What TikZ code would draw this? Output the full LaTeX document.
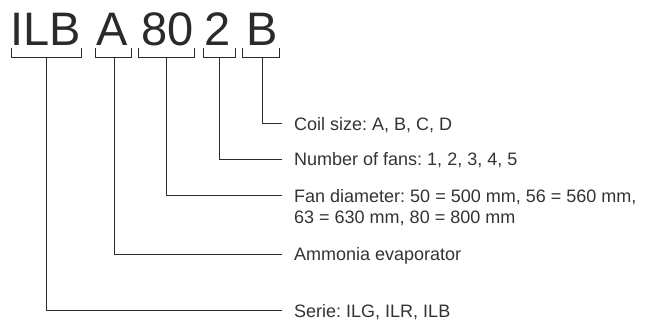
\documentclass[tikz,border=0pt]{standalone}
\usepackage{fontspec}
\setmainfont{Liberation Sans}
\frenchspacing
\definecolor{ink}{HTML}{2A2A2A}
\definecolor{lbl}{HTML}{333333}
\begin{document}
\begin{tikzpicture}[x=1pt,y=-1pt,
  big/.style={anchor=base,inner sep=0pt,text=ink,font=\fontsize{47}{47}\selectfont},
  lab/.style={anchor=base west,inner sep=0pt,text=lbl,font=\fontsize{18}{21.5}\selectfont,align=left},
  wire/.style={draw=ink,line width=0.8pt}]
\useasboundingbox (0,0) rectangle (648,323);
% code letters
\node[big] (tILB) at (46,46) {ILB};
\node[big] (tA) at (112.5,46) {A};
\node[big] (t80) at (167.5,46) {80};
\node[big] (t2) at (218,46) {2};
\node[big] (tB) at (262.5,46) {B};
% bracket corners
\coordinate (bILB) at (46,57);
\coordinate (bA) at (114,57);
\coordinate (b80) at (166,57);
\coordinate (b2) at (219,57);
\coordinate (bB) at (262,57);
\draw[wire] (11,48) -- (11,57) -- (81,57) -- (81,48);
\draw[wire] (95,48) -- (95,57) -- (131,57) -- (131,48);
\draw[wire] (138,48) -- (138,57) -- (194,57) -- (194,48);
\draw[wire] (203,48) -- (203,57) -- (235,57) -- (235,48);
\draw[wire] (242,48) -- (242,57) -- (279,57) -- (279,48);
% labels
\node[lab] (lB) at (294,131) {Coil size: A, B, C, D};
\node[lab] (l2) at (294,166) {Number of fans: 1, 2, 3, 4, 5};
\node[lab] (l80) at (294,224) {Fan diameter: 50 = 500 mm, 56 = 560 mm,\\63 = 630 mm, 80 = 800 mm};
\node[lab] (lA) at (294,261) {Ammonia evaporator};
\node[lab] (lILB) at (294,317) {Serie: ILG, ILR, ILB};
% end points of leaders
\coordinate (eB) at (282,123);
\coordinate (e2) at (282,159);
\coordinate (e80) at (282,195);
\coordinate (eA) at (282,254);
\coordinate (eILB) at (282,310);
\draw[wire] (bB) |- (eB);
\draw[wire] (b2) |- (e2);
\draw[wire] (b80) |- (e80);
\draw[wire] (bA) |- (eA);
\draw[wire] (bILB) |- (eILB);
\end{tikzpicture}
\end{document}
